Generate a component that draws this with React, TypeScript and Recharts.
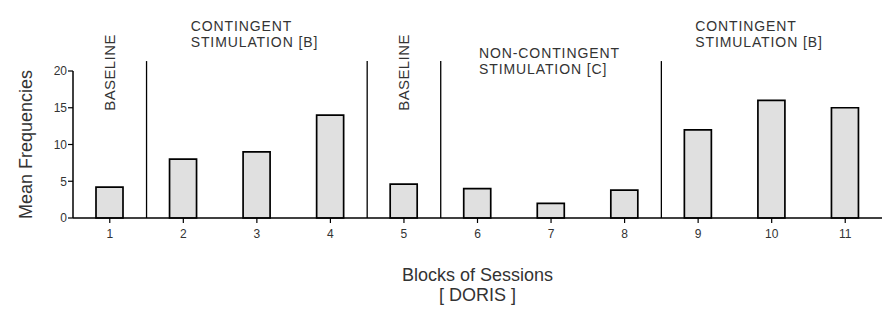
import { BarChart, Bar, XAxis, YAxis, ReferenceLine, ReferenceDot, Label } from 'recharts';

const blocks = [1, 2, 3, 4, 5, 6, 7, 8, 9, 10, 11];
const meanFrequencies = [4.2, 8, 9, 14, 4.6, 4, 2, 3.8, 12, 16, 15];
const yTicks = [0, 5, 10, 15, 20];

// phase changes fall between blocks
const phaseBreaks = [1.5, 4.5, 5.5, 8.5];
const phaseTitles = [
  ['BASELINE'],
  ['CONTINGENT', 'STIMULATION [B]'],
  ['BASELINE'],
  ['NON-CONTINGENT', 'STIMULATION [C]'],
  ['CONTINGENT', 'STIMULATION [B]'],
];
// where each phase title sits, in block / frequency units
const phaseTitleSpots = [
  { x: 1, y: 19.8 },
  { x: 2.1, y: 26.1 },
  { x: 5, y: 19.8 },
  { x: 6.02, y: 22.5 },
  { x: 8.96, y: 26.1 },
];
const phaseLineTop = 21.35;

const font = '"Liberation Sans", Arial, sans-serif';
const textColor = '#333';

const PhaseTitle = ({ viewBox, lines }: any) => {
  const cx = viewBox.x + viewBox.width / 2;
  const cy = viewBox.y + viewBox.height / 2;
  if (lines.length === 1) {
    return (
      <text
        x={cx}
        y={cy}
        textAnchor="middle"
        dominantBaseline="central"
        transform={`rotate(-90 ${cx} ${cy})`}
        fontFamily={font}
        fontSize={15}
        letterSpacing={0.4}
        fill={textColor}
      >
        {lines[0]}
      </text>
    );
  }
  return (
    <g>
      {lines.map((line: string, i: number) => (
        <text
          key={i}
          x={cx}
          y={cy + i * 16}
          textAnchor="start"
          dominantBaseline="central"
          fontFamily={font}
          fontSize={14}
          letterSpacing={0.9}
          fill={textColor}
        >
          {line}
        </text>
      ))}
    </g>
  );
};

const XTitle = ({ viewBox }: any) => {
  const cx = viewBox.x + viewBox.width / 2;
  return (
    <g fontFamily={font} fontSize={18} fill={textColor} textAnchor="middle">
      <text x={cx} y={viewBox.y + 57} dominantBaseline="central">Blocks of Sessions</text>
      <text x={cx} y={viewBox.y + 77} dominantBaseline="central">[ DORIS ]</text>
    </g>
  );
};

const YTitle = ({ viewBox }: any) => {
  const x = 26;
  const y = viewBox.y + viewBox.height / 2;
  return (
    <text
      x={x}
      y={y}
      transform={`rotate(-90 ${x} ${y})`}
      textAnchor="middle"
      dominantBaseline="central"
      fontFamily={font}
      fontSize={18}
      fill={textColor}
    >
      Mean Frequencies
    </text>
  );
};

export default function App() {
  const data = blocks.map((block, i) => ({ block, value: meanFrequencies[i] }));

  return (
    <div style={{ position: 'absolute', left: 0, top: 0, background: '#fff' }}>
      <BarChart width={892} height={315} data={data} margin={{ top: 71, right: 10, bottom: 67, left: 13 }}>
        <XAxis
          dataKey="block"
          type="number"
          domain={[0.5, 11.5]}
          allowDataOverflow
          ticks={blocks}
          interval={0}
          height={30}
          tickSize={5}
          tickMargin={6}
          axisLine={{ stroke: '#000', strokeWidth: 1.5 }}
          tickLine={{ stroke: '#000', strokeWidth: 1.2 }}
          tick={{ fontSize: 12, fill: textColor, fontFamily: font }}
        >
          <Label content={<XTitle />} />
        </XAxis>
        <YAxis
          domain={[0, 20]}
          ticks={yTicks}
          width={60}
          tickSize={5}
          tickMargin={1}
          axisLine={{ stroke: '#000', strokeWidth: 1.5 }}
          tickLine={{ stroke: '#000', strokeWidth: 1.2 }}
          tick={{ fontSize: 12, fill: textColor, fontFamily: font }}
        >
          <Label content={<YTitle />} />
        </YAxis>
        <Bar
          dataKey="value"
          barSize={27}
          fill="#e0e0e0"
          stroke="#000"
          strokeWidth={1.7}
          isAnimationActive={false}
        />
        {phaseBreaks.map((b) => (
          <ReferenceLine
            key={b}
            segment={[{ x: b, y: 0 }, { x: b, y: phaseLineTop }]}
            ifOverflow="visible"
            stroke="#000"
            strokeWidth={1.3}
          />
        ))}
        {phaseTitles.map((lines, i) => (
          <ReferenceDot
            key={i}
            x={phaseTitleSpots[i].x}
            y={phaseTitleSpots[i].y}
            r={0}
            fill="none"
            stroke="none"
            ifOverflow="visible"
            label={<PhaseTitle lines={lines} />}
          />
        ))}
      </BarChart>
    </div>
  );
}
